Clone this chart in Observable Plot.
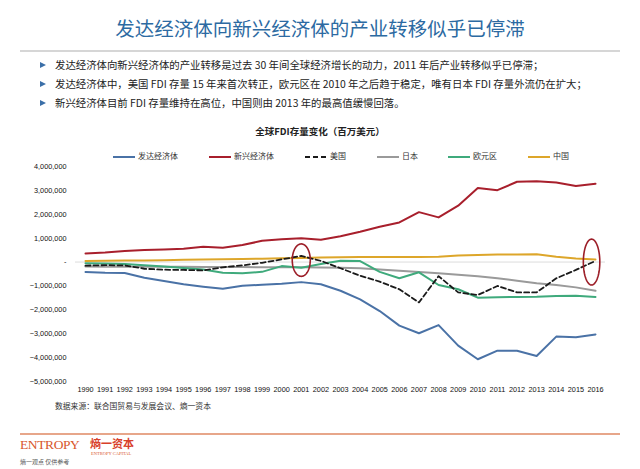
<!DOCTYPE html>
<html><head><meta charset="utf-8">
<script src="https://cdn.jsdelivr.net/npm/d3@7"></script>
<script src="https://cdn.jsdelivr.net/npm/@observablehq/plot@0.6"></script>
<style>
html,body{margin:0;padding:0;background:#fff;}
#page{position:relative;width:640px;height:469px;overflow:hidden;font-family:"Noto Sans CJK SC","Noto Sans",sans-serif;}
.abs{position:absolute;white-space:nowrap;}
#title{left:0;width:640px;top:14px;text-align:center;font-size:19.5px;color:#2C6AA2;line-height:28px;}
#rule1{left:20px;width:600px;top:50px;height:2px;background:#d6d6d6;}
.bul{left:40px;font-size:10.4px;color:#222;line-height:14px;}
.bul .tri{display:inline-block;width:0;height:0;border-top:3.5px solid transparent;border-bottom:3.5px solid transparent;border-left:6px solid #3B6FA8;margin-right:9px;vertical-align:1px;}
#ctitle{left:0;width:640px;top:124px;text-align:center;font-size:9.5px;font-weight:bold;color:#222;}
.leg{top:150px;font-size:8px;color:#333;line-height:12px;}
.leg svg{vertical-align:middle;margin-right:3px;}
#chart{left:0;top:110px;}
#src{left:55px;top:400px;font-size:7.8px;color:#333;}
#rule2{left:20px;width:600px;top:433px;height:1.5px;background:#E7A68A;}
#logo1{left:20px;top:437px;font-family:"Liberation Serif",serif;font-size:13.5px;line-height:15px;color:#D8572C;letter-spacing:-0.4px;}
#logo2{left:90px;top:437px;font-size:11px;line-height:12px;font-weight:bold;color:#D8402A;}
#logo3{left:91px;top:451px;font-family:"Liberation Serif",serif;font-size:4.5px;line-height:5px;color:#D8572C;}
#logo4{left:20px;top:458px;font-size:6px;line-height:8px;color:#555;}
</style></head><body><div id="page">
<div class="abs" id="title">发达经济体向新兴经济体的产业转移似乎已停滞</div>
<div class="abs" id="rule1"></div>
<div class="abs bul" style="top:58px"><span class="tri"></span>发达经济体向新兴经济体的产业转移是过去 30 年间全球经济增长的动力，2011 年后产业转移似乎已停滞；</div>
<div class="abs bul" style="top:77px"><span class="tri"></span>发达经济体中，美国 FDI 存量 15 年来首次转正，欧元区在 2010 年之后趋于稳定，唯有日本 FDI 存量外流仍在扩大；</div>
<div class="abs bul" style="top:96px"><span class="tri"></span>新兴经济体目前 FDI 存量维持在高位，中国则由 2013 年的最高值缓慢回落。</div>
<div class="abs" id="ctitle">全球FDI存量变化（百万美元）</div>
<div id="legend"></div>
<div class="abs" id="chart"></div>
<div class="abs" id="src">数据来源：联合国贸易与发展会议、熵一资本</div>
<div class="abs" id="rule2"></div>
<div class="abs" id="logo1">ENTROPY</div>
<div class="abs" id="logo2">熵一资本</div>
<div class="abs" id="logo3">ENTROPY CAPITAL</div>
<div class="abs" id="logo4">熵一观点 仅供参考</div>
</div>
<script>
const years = [1990,1991,1992,1993,1994,1995,1996,1997,1998,1999,2000,2001,2002,2003,2004,2005,2006,2007,2008,2009,2010,2011,2012,2013,2014,2015,2016];
const developed = [-420000,-450000,-460000,-660000,-790000,-930000,-1030000,-1120000,-990000,-950000,-910000,-840000,-930000,-1200000,-1560000,-2050000,-2660000,-2980000,-2640000,-3500000,-4070000,-3710000,-3710000,-3930000,-3120000,-3150000,-3030000];
const emerging = [360000,400000,460000,500000,530000,560000,640000,600000,710000,890000,950000,1000000,930000,1080000,1270000,1480000,1660000,2090000,1870000,2360000,3100000,3010000,3360000,3380000,3330000,3180000,3280000];
const usa = [-150000,-130000,-140000,-280000,-320000,-330000,-350000,-220000,-140000,-30000,110000,260000,50000,-260000,-570000,-820000,-1140000,-1690000,-590000,-1270000,-1380000,-1000000,-1270000,-1270000,-680000,-330000,50000];
const japan = [-190000,-200000,-200000,-200000,-200000,-200000,-210000,-210000,-210000,-220000,-220000,-220000,-230000,-240000,-260000,-310000,-360000,-420000,-470000,-530000,-590000,-680000,-780000,-890000,-960000,-1060000,-1200000];
const euro = [-50000,-60000,-80000,-130000,-190000,-250000,-310000,-450000,-470000,-410000,-170000,-240000,-80000,50000,40000,-410000,-680000,-430000,-960000,-1140000,-1490000,-1470000,-1460000,-1450000,-1420000,-1410000,-1460000];
const china = [40000,50000,60000,70000,80000,100000,110000,120000,130000,140000,160000,170000,190000,200000,210000,210000,210000,210000,220000,270000,300000,320000,320000,330000,220000,150000,110000];
const yTicks = [4000000,3000000,2000000,1000000,0,-1000000,-2000000,-3000000,-4000000,-5000000];
const seriesNames = ["发达经济体","新兴经济体","美国","日本","欧元区","中国"];
const seriesValues = [developed, emerging, usa, japan, euro, china];
const seriesColors = ["#4A72A6","#A81F2C","#1a1a1a","#9a9a9a","#3FAA7C","#DDA62A"];
const seriesDash = [null,null,"5,3",null,null,null];
const legendX = [113,209,305,377,448,528];
// annotation ellipses: centre (year, value) and radii (years, value units)
const circles = [
  {year:2001, value:80000, rx:0.46, ry:680000},
  {year:2015.8, value:0, rx:0.42, ry:960000}
];

const table = seriesNames.map((name,k)=>years.map((yr,i)=>({series:name, year:yr, value:seriesValues[k][i]})));
const angles = d3.range(0, 361, 5);
const ellPts = circles.flatMap((c,k)=>angles.map(a=>({k, x:c.year + c.rx*Math.cos(a*Math.PI/180), y:c.value + c.ry*Math.sin(a*Math.PI/180)})));

const marks = [
  Plot.ruleY([0], {stroke:"#dcdcdc", strokeWidth:1}),
];
const order = [5,3,4,1,0,2];
for (const k of order) {
  marks.push(Plot.line(table[k], {x:"year", y:"value", stroke:seriesColors[k], strokeWidth: k===2?1.8:2, strokeDasharray: seriesDash[k]||undefined, curve:"linear"}));
}
marks.push(Plot.line(ellPts, {x:"x", y:"y", z:"k", stroke:"#9C1E28", strokeWidth:1.6}));

const chart = Plot.plot({
  width:640, height:290,
  marginLeft:75, marginRight:35, marginTop:56, marginBottom:19,
  style:{fontFamily:"'Liberation Sans', Arial, sans-serif", fontSize:"7.3px", color:"#111", background:"transparent"},
  x:{domain:[1990,2016], inset:10, ticks:years, tickFormat:d=>String(d), tickSize:0, tickPadding:5, label:null},
  y:{domain:[-5000000,4000000], ticks:yTicks, tickFormat:d=>d===0?"-":d3.format(",")(d), tickSize:0, tickPadding:9, label:null},
  marks
});
document.getElementById("chart").appendChild(chart);

const leg = document.getElementById("legend");
seriesNames.forEach((name,k)=>{
  const d = document.createElement("div");
  d.className = "abs leg";
  d.style.left = legendX[k]+"px";
  d.innerHTML = `<svg width="22" height="6"><line x1="0" y1="3" x2="22" y2="3" stroke="${seriesColors[k]}" stroke-width="2" ${seriesDash[k]?`stroke-dasharray="${seriesDash[k]}"`:""}/></svg>${name}`;
  leg.appendChild(d);
});
</script>
</body></html>
